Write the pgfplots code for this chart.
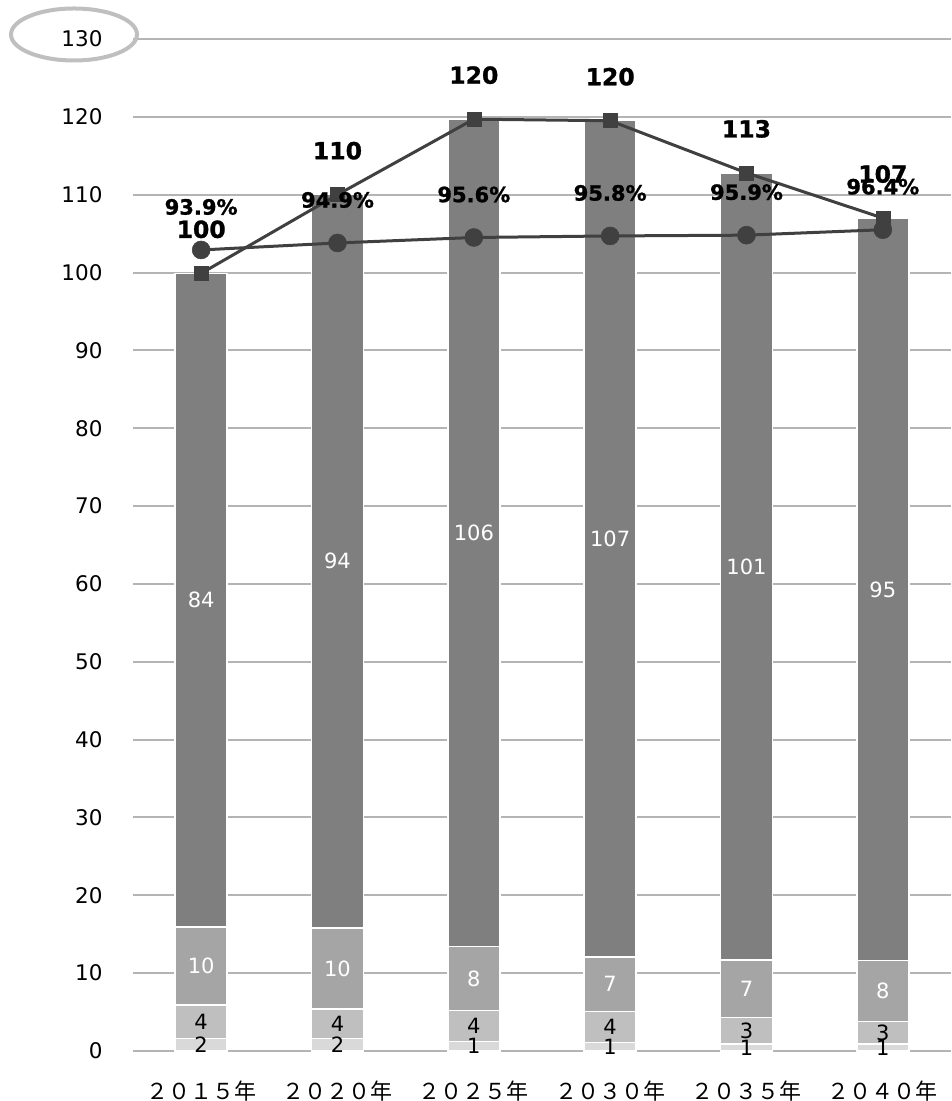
\documentclass[border=0pt]{standalone}
\usepackage{fontspec}
\setmainfont{DejaVu Sans}
\newfontfamily\cjk{Noto Sans CJK JP}
\newfontfamily\heavy{DejaVu Sans Bold}[FakeBold=1.2]
\usepackage{pgfplots}
\pgfplotsset{compat=1.18}
\usepackage{pgfplotstable}

\definecolor{c1}{HTML}{D9D9D9}
\definecolor{c2}{HTML}{BFBFBF}
\definecolor{c3}{HTML}{A5A5A5}
\definecolor{c4}{HTML}{7F7F7F}
\definecolor{ln}{HTML}{404040}
\definecolor{gridc}{HTML}{B4B4B4}

\pgfplotstableread{
x s1 l1 s2 l2 s3 l3 s4 l4
0 1.6 2 4.3 4 10.0 10 84.0 84
1 1.6 2 3.8 4 10.4 10 94.2 94
2 1.2 1 4.0 4 8.2 8 106.3 106
3 1.1 1 4.0 4 7.0 7 107.4 107
4 0.9 1 3.4 3 7.4 7 101.1 101
5 0.9 1 2.9 3 7.8 8 95.4 95
}\bars

\pgfplotstableread{
x tot ltot pct lpct
0 99.9 100 102.9 93.9
1 110.0 110 103.8 94.9
2 119.7 120 104.5 95.6
3 119.5 120 104.7 95.8
4 112.8 113 104.8 95.9
5 107.0 107 105.5 96.4
}\lines

\pgfplotsset{
  base/.style={scale only axis, width=818pt, height=1012pt,
    ymin=0, ymax=130, xmin=-0.5, xmax=5.5},
  seg/.style={fill=#1, draw=white, line width=1.5pt},
  lab/.style={draw=none, mark=none, nodes near coords, point meta=explicit symbolic,
    every node near coord/.append style={anchor=center, text=#1,
      font=\fontsize{21}{25}\selectfont}},
}

\begin{document}
\begin{tikzpicture}
\begin{axis}[base,
  ybar stacked, bar width=52pt,
  axis x line*=bottom, axis y line*=left,
  y axis line style={draw=none},
  x axis line style={gridc, line width=2pt, -},
  major tick length=0pt,
  ytick={0,10,...,130},
  xtick={0,...,5},
  xticklabels={２０１５年,２０２０年,２０２５年,２０３０年,２０３５年,２０４０年},
  xticklabel style={font=\cjk\fontsize{22}{26}\selectfont, yshift=-26pt},
  yticklabel style={font=\fontsize{21.5}{25}\selectfont, xshift=-27pt},
  /pgf/number format/assume math mode=true,
  ymajorgrids, grid style={gridc, line width=2pt},
  clip=false,
]
\addplot[seg=c1] table[x=x, y=s1] {\bars};
\addplot[seg=c2] table[x=x, y=s2] {\bars};
\addplot[seg=c3] table[x=x, y=s3] {\bars};
\addplot[seg=c4] table[x=x, y=s4] {\bars};
\end{axis}
\begin{axis}[base, hide axis, clip=false]
% segment labels, centred in each segment
\addplot[lab=black] table[x=x, y expr=\thisrow{s1}/2, meta=l1] {\bars};
\addplot[lab=black] table[x=x, y expr=\thisrow{s1}+\thisrow{s2}/2, meta=l2] {\bars};
\addplot[lab=white] table[x=x, y expr=\thisrow{s1}+\thisrow{s2}+\thisrow{s3}/2, meta=l3] {\bars};
\addplot[lab=white] table[x=x, y expr=\thisrow{s1}+\thisrow{s2}+\thisrow{s3}+\thisrow{s4}/2, meta=l4] {\bars};
% lines
\addplot[ln, line width=3pt, mark=square*, mark size=7pt,
  mark options={solid, line width=0.5pt},
  nodes near coords, point meta=explicit symbolic,
  every node near coord/.append style={anchor=center, yshift=44pt, text=black,
    font=\heavy\fontsize{23.5}{28}\selectfont}]
  table[x=x, y=tot, meta=ltot] {\lines};
\addplot[ln, line width=3pt, mark=*, mark size=9pt,
  mark options={solid, line width=0.5pt},
  nodes near coords={\pgfplotspointmeta\%}, point meta=explicit symbolic,
  every node near coord/.append style={anchor=center, yshift=43pt, text=black,
    font=\heavy\fontsize{21}{25}\selectfont}]
  table[x=x, y=pct, meta=lpct] {\lines};
\end{axis}
\draw[c2, line width=4pt] (-59pt,1016.5pt) ellipse [x radius=63pt, y radius=26pt];
\pgfresetboundingbox
\path (-133pt,-50pt) rectangle (818pt,1051pt);
\end{tikzpicture}
\end{document}
